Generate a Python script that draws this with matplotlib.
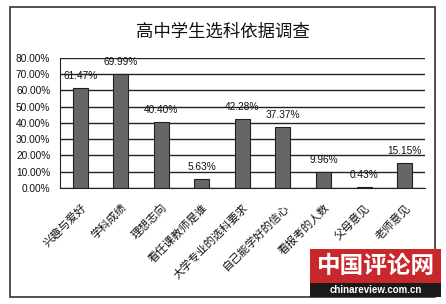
import matplotlib.pyplot as plt
from matplotlib.patches import Rectangle

plt.rcParams['font.family'] = ['Liberation Sans', 'Noto Sans CJK SC', 'DejaVu Sans']

# survey data
categories = ['兴趣与爱好', '学科成绩', '理想志向', '看任课教师是谁', '大学专业的选科要求',
              '自己能学好的信心', '看报考的人数', '父母意见', '老师意见']
values = [61.47, 69.99, 40.40, 5.63, 42.28, 37.37, 9.96, 0.43, 15.15]
yticks = [0, 10, 20, 30, 40, 50, 60, 70, 80]

fig = plt.figure(figsize=(4.46, 3.04), dpi=100)
fig.patch.set_facecolor('white')

# outer chart border
fig.patches.append(Rectangle((0.022, 0.023), 0.953, 0.954, transform=fig.transFigure,
                             fill=False, edgecolor='#222222', linewidth=1.1))

fig.text(0.5, 0.895, '高中学生选科依据调查', ha='center', va='center', fontsize=12.5, color='#111111')

ax = fig.add_axes([0.1345, 0.3816, 0.818, 0.428])
x = range(len(categories))
ax.set_axisbelow(True)
ax.grid(axis='y', color='#222222', linewidth=1.0)
ax.bar(x, values, width=0.37, color='#666666', edgecolor='#222222', linewidth=0.8)

for i, v in enumerate(values):
    ax.annotate(f'{v:.2f}%', (i, v), xytext=(0, 5), textcoords='offset points',
                ha='center', va='bottom', fontsize=7.3, color='#111111')

ax.set_ylim(0, 80)
ax.set_xlim(-0.5, len(categories) - 0.5)
ax.set_yticks(yticks)
ax.set_yticklabels([f'{t:.2f}%' for t in yticks], fontsize=7.3, color='#111111')
ax.set_xticks(list(x))
ax.set_xticklabels(categories, rotation=45, ha='right', rotation_mode='anchor',
                   fontsize=8, color='#111111')
ax.tick_params(axis='both', length=0)
ax.tick_params(axis='y', pad=7)
ax.tick_params(axis='x', pad=10)
for s in ['top', 'right']:
    ax.spines[s].set_visible(False)
ax.spines['left'].set_color('#222222')
ax.spines['bottom'].set_color('#222222')

# watermark box
fig.patches.append(Rectangle((310 / 446, 1 - 283 / 304), 131 / 446, 34 / 304,
                             transform=fig.transFigure, facecolor='#c8282c', edgecolor='none'))
fig.patches.append(Rectangle((310 / 446, 1 - 297 / 304), 131 / 446, 14 / 304,
                             transform=fig.transFigure, facecolor='#1a1a1a', edgecolor='none'))
fig.text(376 / 446, 1 - 266 / 304, '中国评论网', ha='center', va='center', fontsize=17,
         color='white', fontweight='bold')
fig.text(376 / 446, 1 - 290 / 304, 'chinareview.com.cn', ha='center', va='center',
         fontsize=7, color='white', fontweight='bold')

fig.savefig('out.png', dpi=100)
